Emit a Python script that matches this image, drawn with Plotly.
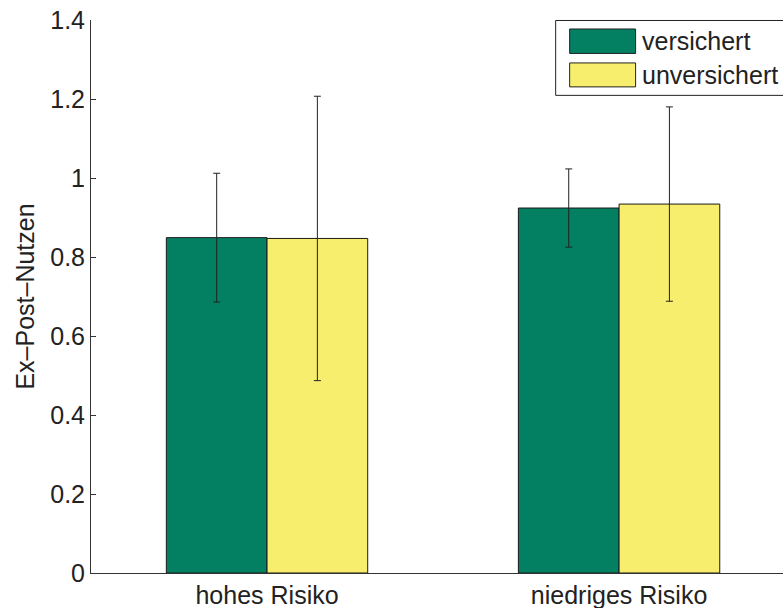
import plotly.graph_objects as go

categories = ["hohes Risiko", "niedriges Risiko"]
series_names = ["versichert", "unversichert"]
versichert = [0.849, 0.924]
versichert_err = [0.163, 0.099]
unversichert = [0.847, 0.934]
unversichert_err = [0.360, 0.246]
y_ticks = [0, 0.2, 0.4, 0.6, 0.8, 1.0, 1.2, 1.4]
y_tick_text = ["0", "0.2", "0.4", "0.6", "0.8", "1", "1.2", "1.4"]

GREEN = "#037f62"
YELLOW = "#f7ee6d"
FONT = "Liberation Sans, Arial, Helvetica, sans-serif"
FS = 25

W, H = 783, 608
L, R, T, B = 90.5, 0, 19.5, 608 - 573.5

xpos = [i + 1 for i in range(len(categories))]
unit_px = 352.3

fig = go.Figure()
for name, vals, errs, col in [
    (series_names[0], versichert, versichert_err, GREEN),
    (series_names[1], unversichert, unversichert_err, YELLOW),
]:
    fig.add_trace(go.Bar(
        x=xpos, y=vals, name=name,
        marker=dict(color=col, line=dict(color="#1a1a1a", width=1)),
        error_y=dict(type="data", array=errs, visible=True, color="#222222",
                     thickness=1, width=3.5),
        showlegend=False,
    ))

fig.update_layout(
    width=W, height=H,
    margin=dict(l=L, r=R, t=T, b=B, pad=0),
    paper_bgcolor="white", plot_bgcolor="white",
    barmode="group", bargap=0.428, bargroupgap=0,
    font=dict(family=FONT, size=FS, color="#222222"),
    xaxis=dict(range=[0.5, 0.5 + (W - L - R) / unit_px], tickvals=xpos, ticktext=categories,
               showline=True, linecolor="#333333", linewidth=1, ticks="",
               showgrid=False, zeroline=False, tickfont=dict(size=FS),
               ticklabeloverflow="allow"),
    yaxis=dict(range=[0, 1.4], tickvals=y_ticks, ticktext=y_tick_text,
               showline=True, linecolor="#333333", linewidth=1, ticks="inside",
               ticklen=5, tickcolor="#333333", showgrid=False, zeroline=False,
               tickfont=dict(size=FS), ticklabeloverflow="allow",
               title=dict(text="Ex\u2013Post\u2013Nutzen", font=dict(size=FS), standoff=8)),
)

# manual legend (MATLAB style); coordinates given in page pixels
def px(x):
    return (x - L) / (W - L - R)

def py(y):
    return (H - B - y) / (H - T - B)

fig.add_shape(type="rect", xref="paper", yref="paper",
              x0=px(555.5), x1=px(800), y0=py(95), y1=py(20),
              line=dict(color="#222222", width=1), fillcolor="white", layer="above")
legend_rows = [(series_names[0], GREEN, 28.5, 53), (series_names[1], YELLOW, 62.5, 86.5)]
for name, col, y0, y1 in legend_rows:
    fig.add_shape(type="rect", xref="paper", yref="paper",
                  x0=px(569.5), x1=px(635.5), y0=py(y1), y1=py(y0),
                  line=dict(color="#222222", width=1), fillcolor=col, layer="above")
    fig.add_annotation(xref="paper", yref="paper", x=px(640), y=py((y0 + y1) / 2),
                       text=name, showarrow=False, xanchor="left", yanchor="middle",
                       font=dict(size=FS, color="#222222"))

fig.write_html(
    "out.html",
    config={"displayModeBar": False},
    post_script="document.body.style.margin='0';document.body.style.overflow='hidden';",
)
